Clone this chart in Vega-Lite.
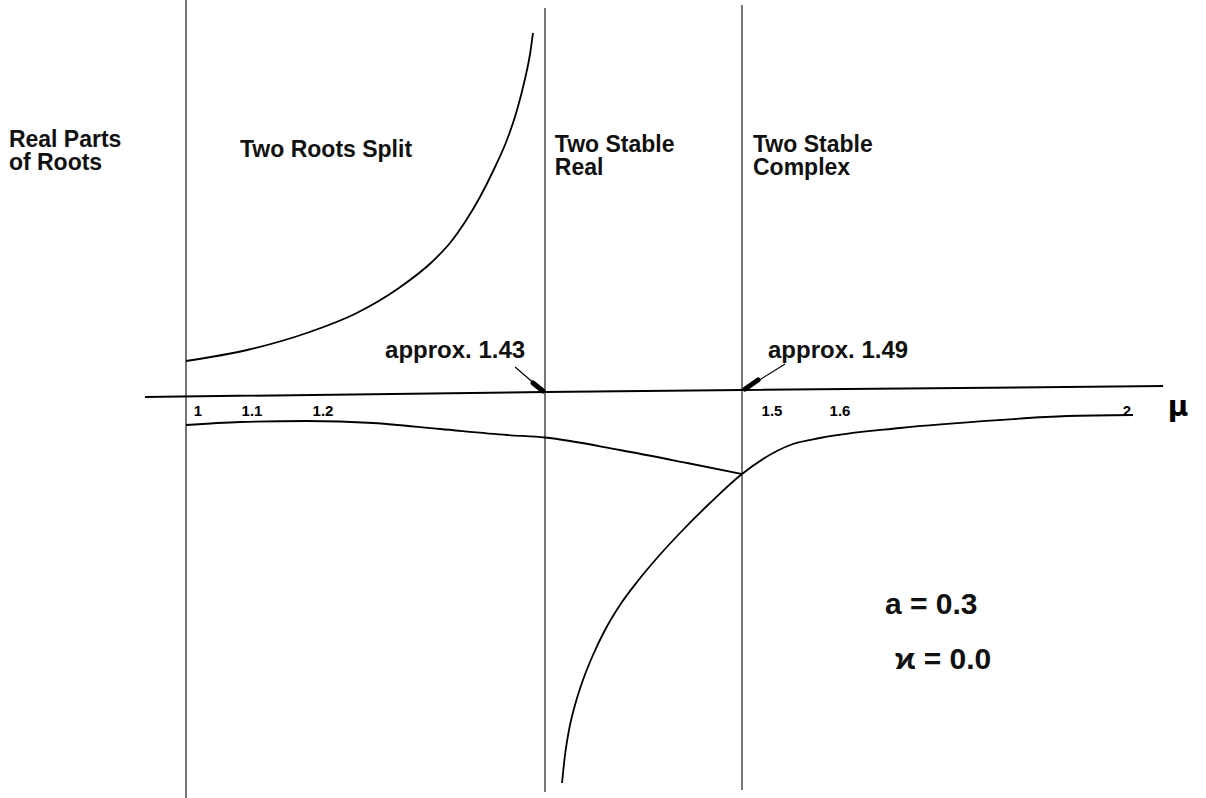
{
  "$schema": "https://vega.github.io/schema/vega-lite/v6.json",
  "width": 1206,
  "height": 798,
  "padding": 0,
  "autosize": {"type": "none"},
  "background": "white",
  "config": {"view": {"stroke": null}},
  "datasets": {
    "dividers": [
      {"mu": 1.0, "val": 3.94, "val2": -4.04},
      {"mu": 1.43, "val": 3.86, "val2": -3.98},
      {"mu": 1.49, "val": 3.89, "val2": -3.96}
    ],
    "baseline": [
      {"mu": 0.924, "val": -0.03},
      {"mu": 1.43, "val": 0.02},
      {"mu": 1.49, "val": 0.04},
      {"mu": 2.067, "val": 0.08}
    ],
    "roots": [
      {"branch": "split-up", "mu": 1.0, "val": 0.33},
      {"branch": "split-up", "mu": 1.11, "val": 0.44},
      {"branch": "split-up", "mu": 1.194, "val": 0.61},
      {"branch": "split-up", "mu": 1.245, "val": 0.81},
      {"branch": "split-up", "mu": 1.285, "val": 1.05},
      {"branch": "split-up", "mu": 1.3199, "val": 1.33},
      {"branch": "split-up", "mu": 1.3366, "val": 1.51},
      {"branch": "split-up", "mu": 1.3514, "val": 1.72},
      {"branch": "split-up", "mu": 1.3661, "val": 1.97},
      {"branch": "split-up", "mu": 1.3809, "val": 2.27},
      {"branch": "split-up", "mu": 1.3926, "val": 2.54},
      {"branch": "split-up", "mu": 1.4025, "val": 2.84},
      {"branch": "split-up", "mu": 1.4103, "val": 3.15},
      {"branch": "split-up", "mu": 1.4153, "val": 3.4},
      {"branch": "split-up", "mu": 1.4182, "val": 3.61},
      {"branch": "split-down", "mu": 1.0, "val": -0.31},
      {"branch": "split-down", "mu": 1.1, "val": -0.28},
      {"branch": "split-down", "mu": 1.194, "val": -0.27},
      {"branch": "split-down", "mu": 1.261, "val": -0.29},
      {"branch": "split-down", "mu": 1.327, "val": -0.35},
      {"branch": "split-down", "mu": 1.393, "val": -0.41},
      {"branch": "split-down", "mu": 1.43, "val": -0.435},
      {"branch": "split-down", "mu": 1.4528, "val": -0.56},
      {"branch": "split-down", "mu": 1.4733, "val": -0.69},
      {"branch": "split-down", "mu": 1.49, "val": -0.8},
      {"branch": "stable", "mu": 1.43518, "val": -3.89},
      {"branch": "stable", "mu": 1.43609, "val": -3.61},
      {"branch": "stable", "mu": 1.43731, "val": -3.36},
      {"branch": "stable", "mu": 1.43914, "val": -3.11},
      {"branch": "stable", "mu": 1.44157, "val": -2.86},
      {"branch": "stable", "mu": 1.44462, "val": -2.61},
      {"branch": "stable", "mu": 1.44828, "val": -2.36},
      {"branch": "stable", "mu": 1.45284, "val": -2.11},
      {"branch": "stable", "mu": 1.45802, "val": -1.88},
      {"branch": "stable", "mu": 1.46411, "val": -1.64},
      {"branch": "stable", "mu": 1.47112, "val": -1.39},
      {"branch": "stable", "mu": 1.48026, "val": -1.09},
      {"branch": "stable", "mu": 1.49, "val": -0.8},
      {"branch": "stable", "mu": 1.5485, "val": -0.5},
      {"branch": "stable", "mu": 1.5882, "val": -0.44},
      {"branch": "stable", "mu": 1.7003, "val": -0.34},
      {"branch": "stable", "mu": 1.8397, "val": -0.26},
      {"branch": "stable", "mu": 1.9331, "val": -0.22},
      {"branch": "stable", "mu": 2.0251, "val": -0.21}
    ],
    "pointers": [
      {"arrow": "1.43", "mu": 1.4006, "val": 0.27},
      {"arrow": "1.43", "mu": 1.428, "val": 0.03},
      {"arrow": "1.49", "mu": 1.5368, "val": 0.3},
      {"arrow": "1.49", "mu": 1.4917, "val": 0.05}
    ],
    "heads": [
      {"arrow": "1.43", "mu": 1.4182, "val": 0.11},
      {"arrow": "1.43", "mu": 1.428, "val": 0.03},
      {"arrow": "1.49", "mu": 1.4989, "val": 0.14},
      {"arrow": "1.49", "mu": 1.4917, "val": 0.05}
    ],
    "ticks": [
      {"mu": 1.0, "val": -0.17, "label": "1"},
      {"mu": 1.1, "val": -0.17, "label": "1.1"},
      {"mu": 1.2, "val": -0.17, "label": "1.2"},
      {"mu": 1.5, "val": -0.17, "label": "1.5"},
      {"mu": 1.6, "val": -0.17, "label": "1.6"},
      {"mu": 2.0, "val": -0.17, "label": "2"}
    ],
    "captions": [
      {"mu": 0.672, "val": 2.54, "label": "Real Parts\nof Roots"},
      {"mu": 1.1, "val": 2.44, "label": "Two Roots Split"},
      {"mu": 1.433, "val": 2.49, "label": "Two Stable\n Real"},
      {"mu": 1.4961, "val": 2.49, "label": "Two Stable\n Complex"}
    ],
    "notes": [
      {"mu": 1.2728, "val": 0.43, "label": "approx. 1.43"},
      {"mu": 1.5118, "val": 0.43, "label": "approx. 1.49"}
    ],
    "params": [
      {"mu": 1.6794, "val": -2.11, "label": "a = 0.3"},
      {"mu": 1.6934, "val": -2.66, "label": "ϰ = 0.0"}
    ],
    "axisname": [
      {"mu": 2.0878, "val": -0.14, "label": "μ"}
    ]
  },
  "encoding": {
    "x": {
      "field": "mu",
      "type": "quantitative",
      "axis": null,
      "scale": {
        "domain": [1, 1.1, 1.2, 1.43, 1.49, 1.5, 1.6, 2],
        "range": [186, 240, 311, 545, 742, 760, 828, 1115],
        "zero": false,
        "nice": false
      }
    },
    "y": {
      "field": "val",
      "type": "quantitative",
      "axis": null,
      "scale": {"domain": [-4.04, 3.94], "range": [798, 0], "zero": false, "nice": false}
    }
  },
  "layer": [
    {
      "data": {"name": "dividers"},
      "mark": {"type": "rule", "color": "#1a1a1a", "strokeWidth": 1.2},
      "encoding": {"y2": {"field": "val2"}}
    },
    {
      "data": {"name": "baseline"},
      "mark": {"type": "line", "color": "black", "strokeWidth": 2},
      "encoding": {}
    },
    {
      "data": {"name": "roots"},
      "mark": {"type": "line", "color": "black", "strokeWidth": 1.8, "interpolate": "monotone"},
      "encoding": {"detail": {"field": "branch"}}
    },
    {
      "data": {"name": "pointers"},
      "mark": {"type": "line", "color": "black", "strokeWidth": 1.2},
      "encoding": {"detail": {"field": "arrow"}, "order": {"field": "val"}}
    },
    {
      "data": {"name": "heads"},
      "mark": {"type": "line", "color": "black", "strokeWidth": 5, "strokeCap": "round"},
      "encoding": {"detail": {"field": "arrow"}, "order": {"field": "val"}}
    },
    {
      "data": {"name": "ticks"},
      "mark": {"type": "text", "font": "Liberation Sans", "fontSize": 15, "fontWeight": "bold", "align": "center", "baseline": "middle", "dx": 12, "color": "black"},
      "encoding": {"text": {"field": "label"}}
    },
    {
      "data": {"name": "captions"},
      "mark": {"type": "text", "font": "Liberation Sans", "fontSize": 23, "fontWeight": "bold", "lineBreak": "\n", "lineHeight": 23, "align": "left", "baseline": "middle", "color": "#111111"},
      "encoding": {"text": {"field": "label"}}
    },
    {
      "data": {"name": "notes"},
      "mark": {"type": "text", "font": "Liberation Sans", "fontSize": 24, "fontWeight": "bold", "align": "left", "baseline": "middle", "color": "#111111"},
      "encoding": {"text": {"field": "label"}}
    },
    {
      "data": {"name": "params"},
      "mark": {"type": "text", "font": "Liberation Sans", "fontSize": 30, "fontWeight": "bold", "align": "left", "baseline": "middle", "color": "#111111"},
      "encoding": {"text": {"field": "label"}}
    },
    {
      "data": {"name": "axisname"},
      "mark": {"type": "text", "font": "DejaVu Sans", "fontSize": 28, "fontWeight": "bold", "align": "center", "baseline": "middle", "color": "black"},
      "encoding": {"text": {"field": "label"}}
    }
  ]
}
